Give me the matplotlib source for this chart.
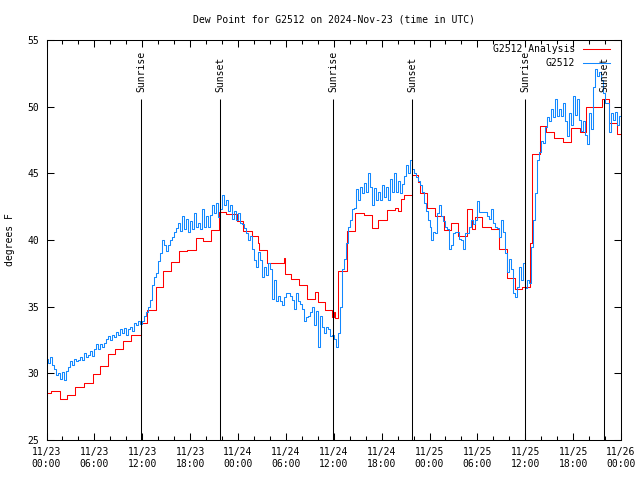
"""
Dew point plot for G2512, gnuplot look-alike
"""

import matplotlib
import matplotlib.dates as mdates
import numpy as np
import pandas as pd
from matplotlib import pyplot as plt

matplotlib.use('Agg')

plt.rcParams['font.family'] = ['DejaVu Sans Mono']
plt.rcParams['font.size'] = 7
plt.rcParams['axes.linewidth'] = 0.75

start = pd.Timestamp('2024-11-23 00:00')
end = pd.Timestamp('2024-11-26 00:00')

# station obs, one reading every 15 min from 11/23 00:00
obs_dewpt = [
    31.1, 30.8, 31.2, 30.6, 30.3, 29.9, 30.0, 29.6, 30.1, 29.5, 30.2, 30.5,
    30.9, 30.6, 31.1, 30.9, 31.0, 31.2, 31.0, 31.5, 31.2, 31.4, 31.7, 31.3,
    31.8, 32.2, 31.8, 32.2, 32.0, 32.3, 32.6, 32.8, 32.5, 32.9, 32.7, 33.1,
    32.9, 33.3, 33.0, 33.4, 32.9, 33.3, 33.5, 33.2, 33.8, 33.6, 33.9, 33.7,
    33.9,
    34.3, 34.6, 35.0, 35.5, 36.6, 37.2, 37.5, 38.4, 39.0, 40.0, 39.6, 39.2,
    39.6, 40.0, 40.2, 40.6, 40.9, 41.3, 40.7, 41.8, 40.8, 41.6, 40.6, 41.4,
    40.8, 42.0, 41.0, 41.3, 40.8, 42.3, 41.0, 41.8, 41.0, 41.9, 42.6, 42.0,
    42.8, 41.7, 42.3, 43.4, 42.6, 43.0, 42.2, 42.6, 41.6, 42.2, 41.5, 42.0,
    41.3,
    41.2, 40.9, 40.5, 40.0, 40.3, 39.3, 38.5, 38.0, 39.1, 38.5, 37.2, 38.0,
    37.4, 38.3, 37.8, 35.6, 37.0, 35.4, 35.8, 35.4, 35.1, 35.7, 36.0, 36.0,
    35.8, 35.5, 34.8, 36.0, 35.4, 35.2, 34.8, 33.9, 34.2, 34.3, 34.6, 35.0,
    33.6, 34.7, 32.0, 34.3, 33.5, 33.0, 33.5, 33.3, 32.8, 32.9, 32.6,
    32.0, 33.0, 35.0, 37.8, 38.6, 39.8, 41.0, 41.5, 42.3, 42.4, 43.8, 43.0,
    44.0, 43.5, 44.3, 43.6, 45.0, 44.0, 42.6, 43.9, 43.0, 43.6, 43.0, 44.1,
    43.2, 44.0, 43.0, 44.6, 43.6, 45.0, 43.6, 44.4, 43.5, 44.2, 44.8, 45.6,
    45.0, 46.0, 45.3, 45.0, 44.7, 44.4, 44.1, 43.6, 42.8, 42.2, 41.5,
    41.0, 40.0, 40.6, 40.5, 42.0, 42.6, 41.8, 41.4, 41.0, 40.8, 39.3, 39.6,
    40.5, 40.6, 40.6, 40.1, 40.0, 39.3, 40.5, 40.5, 41.0, 41.5, 41.2, 41.5,
    42.9, 42.1, 42.1, 42.1, 42.1, 41.8, 41.6, 42.3, 41.3, 41.0, 40.9, 40.2,
    41.5, 40.6, 39.0, 37.6, 38.6, 37.8, 36.0, 35.7, 36.5, 38.0, 37.0, 38.3,
    36.4, 37.0,
    36.8, 39.5, 41.5, 43.5, 46.0, 46.6, 47.4, 47.3, 48.5, 49.2, 48.9, 49.8,
    49.2, 50.6, 49.3, 49.8, 49.3, 50.3, 48.9, 47.8, 49.5, 48.6, 50.8, 49.4,
    50.6, 49.0, 48.2, 48.9, 47.9, 47.2, 49.5, 48.3, 51.5, 52.8, 52.3, 52.6,
    52.0, 51.0, 50.3, 50.3, 48.1, 49.5, 49.0, 49.6, 48.6, 49.3, 49.5,
]

# analysis: hours after start where the value changes, and the new value
ana_hours = [
    0, 0.6, 1.7, 2.6, 3.6, 4.7, 5.8, 6.7, 7.7, 8.6, 9.65, 10.6, 11.8,
    12.65, 13.7, 14.65, 15.65, 16.65, 17.65, 18.7, 19.65, 20.6, 21.6, 22.5,
    23.85, 24.67, 25.72, 26.55, 26.68, 27.68, 29.72, 29.93, 30.68, 31.6,
    32.6, 33.69, 34.02, 34.94, 35.77, 36.0, 36.15, 36.57, 37.62, 38.65,
    39.82, 40.74, 41.6, 42.62, 43.7, 44.1, 44.4, 44.8, 45.8, 46.58, 46.79,
    47.7, 48.67, 49.76, 50.68, 51.59, 52.64, 53.27, 53.72, 54.64, 55.68,
    56.72, 57.77, 58.73, 59.57, 60.57, 60.9, 61.82, 62.66, 63.61, 64.74,
    65.79, 66.83, 67.58, 69.62, 70.5, 71.5,
]
ana_dewpt = [
    28.5, 28.65, 28.07, 28.35, 28.97, 29.3, 29.92, 30.52, 31.43, 31.8, 32.45, 32.87, 33.75,
    34.72, 36.45, 37.7, 38.35, 39.2, 39.25, 40.15, 39.95, 40.75, 42.12, 41.97,
    41.45, 40.65, 40.3, 39.75, 39.22, 38.27, 38.63, 37.45, 37.07, 36.6,
    35.55, 36.08, 35.35, 34.75, 34.2, 34.6, 34.12, 37.7, 40.7, 42.0,
    41.9, 40.88, 41.48, 42.23, 42.4, 42.2, 43.05, 43.38, 44.9, 44.37, 43.5,
    42.4, 41.8, 40.75, 41.25, 40.3, 42.35, 40.85, 41.7, 40.95, 40.85,
    39.3, 37.13, 36.33, 36.5, 39.75, 46.43, 48.52, 48.07, 47.62, 47.32,
    48.43, 48.13, 50.0, 50.55, 48.75, 47.93,
]

# sun events (UTC)
sun_labels = ['Sunrise', 'Sunset', 'Sunrise', 'Sunset', 'Sunrise', 'Sunset']
sun_times = ['2024-11-23 11:54', '2024-11-23 21:47', '2024-11-24 11:56',
             '2024-11-24 21:50', '2024-11-25 11:59', '2024-11-25 21:52']

obs_time = pd.date_range(start, periods=len(obs_dewpt), freq='15min')
ana_time = start + pd.to_timedelta(ana_hours, unit='h')
# extend last step to the right edge
ana_time = ana_time.append(pd.DatetimeIndex([end]))
ana_vals = ana_dewpt + [ana_dewpt[-1]]

fig = plt.figure(figsize=(6.4, 4.8), dpi=100)
ax = fig.add_axes([46.5 / 640, 40 / 480, 574.5 / 640, 400 / 480])

LW = 0.75  # ~1 px
ln_ana, = ax.plot(ana_time, ana_vals, drawstyle='steps-post', color='#ff0000',
                  lw=LW, label='G2512 Analysis')
ln_obs, = ax.plot(obs_time, obs_dewpt, drawstyle='steps-post', color='#1188ff',
                  lw=LW, label='G2512')

for lbl, t in zip(sun_labels, sun_times):
    t = pd.Timestamp(t)
    ax.vlines(t, 25, 50.55, color='black', lw=LW)
    ax.text(t, 51.1, lbl, rotation=90, ha='center', va='bottom')

ax.set_xlim(start, end)
ax.set_ylim(25, 55)
ax.set_yticks(np.arange(25, 56, 5))
ax.xaxis.set_major_locator(mdates.HourLocator(byhour=[0, 6, 12, 18]))
ax.xaxis.set_minor_locator(mdates.HourLocator(interval=2))
ax.xaxis.set_major_formatter(mdates.DateFormatter('%m/%d\n%H:%M'))

ax.tick_params(which='both', direction='in', top=True, right=True, width=LW)
ax.tick_params(which='major', length=5)
ax.tick_params(which='minor', length=3)
ax.tick_params(axis='x', pad=5)
ax.tick_params(axis='y', pad=5)

ax.legend(handles=[ln_ana, ln_obs], loc='upper right',
          bbox_to_anchor=(610 / 640, 1 - 44 / 480), bbox_transform=fig.transFigure,
          markerfirst=False, frameon=False, handlelength=2.8, handletextpad=0.8,
          borderpad=0, borderaxespad=0, labelspacing=0.45)

fig.text(333.7 / 640, 1 - 20 / 480, 'Dew Point for G2512 on 2024-Nov-23 (time in UTC)',
         ha='center', va='center')
fig.text(10 / 640, 0.5, 'degrees F', rotation=90, ha='center', va='center')

fig.savefig('out.png', dpi=100)
